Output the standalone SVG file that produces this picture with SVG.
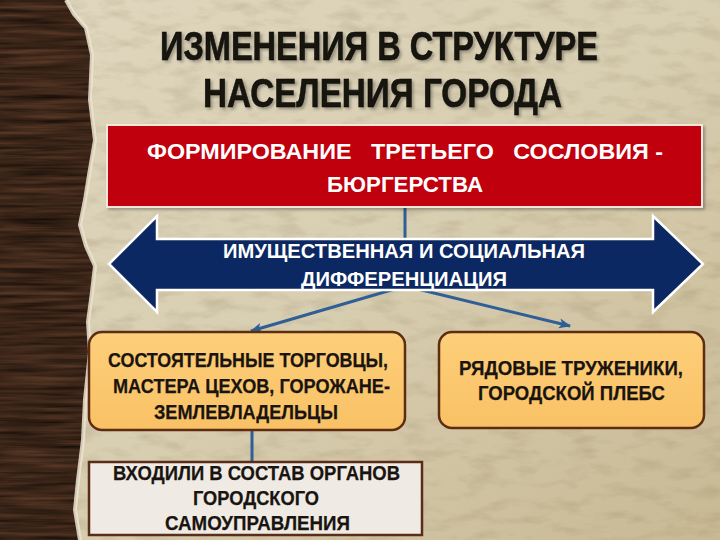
<svg xmlns="http://www.w3.org/2000/svg" width="720" height="540" viewBox="0 0 720 540">
  <defs>
    <style>
      .t { font-family: "Liberation Sans", Arial, sans-serif; font-weight: bold; }
      .title { font-size: 41px; fill: #141210; stroke: #141210; stroke-width: 0.6; }
      .white { fill: #ffffff; }
      .dark { fill: #1a1410; font-size: 20px; stroke: #1a1410; stroke-width: 0.25; }
      .conn { stroke: #2f5f96; stroke-width: 3; fill: none; }
    </style>
    <linearGradient id="paperGrad" x1="0" y1="0" x2="1" y2="1">
      <stop offset="0" stop-color="#e0d7bf"/>
      <stop offset="0.5" stop-color="#d8ceb1"/>
      <stop offset="1" stop-color="#c8b994"/>
    </linearGradient>
    <linearGradient id="orangeGrad" x1="0" y1="0" x2="0" y2="1">
      <stop offset="0" stop-color="#fdcf7a"/>
      <stop offset="1" stop-color="#f9c165"/>
    </linearGradient>
    <filter id="paperTex" x="0" y="0" width="100%" height="100%" color-interpolation-filters="sRGB">
      <feTurbulence type="fractalNoise" baseFrequency="0.03 0.08" numOctaves="4" seed="7"/>
      <feColorMatrix type="matrix" values="0 0 0 0 0.48  0 0 0 0 0.41  0 0 0 0 0.28  1.6 0 0 0 -0.75"/>
    </filter>
    <filter id="woodTex" x="0" y="0" width="100%" height="100%" color-interpolation-filters="sRGB">
      <feTurbulence type="fractalNoise" baseFrequency="0.012 0.22" numOctaves="3" seed="2"/>
      <feColorMatrix type="matrix" values="0.34 0 0 0 0.06  0.22 0 0 0 0.035  0.15 0 0 0 0.02  0 0 0 0 1"/>
    </filter>
    <filter id="shadow" x="-5%" y="-20%" width="110%" height="140%">
      <feDropShadow dx="2" dy="2" stdDeviation="1.5" flood-color="#000" flood-opacity="0.3"/>
    </filter>
    <clipPath id="paperClip">
      <path d="M66,0 L74,14 L86,28 L92,55 L90,100 L95,140 L89,175 L85,200 L80,225 L86,246 L95,266 L92,292 L88,322 L90,352 L85,400 L83,440 L78,480 L75,510 L80,540 L720,540 L720,0 Z"/>
    </clipPath>
    <marker id="arr" viewBox="0 0 12 10" refX="11" refY="5" markerWidth="4" markerHeight="4" orient="auto" markerUnits="strokeWidth">
      <path d="M0,0 L12,5 L0,10 L3,5 Z" fill="#2f5f96"/>
    </marker>
  </defs>

  <g id="background">
    <rect x="0" y="0" width="120" height="540" fill="#3a2418"/>
    <rect x="0" y="0" width="120" height="540" filter="url(#woodTex)"/>
    <g clip-path="url(#paperClip)">
      <rect x="0" y="0" width="720" height="540" fill="url(#paperGrad)"/>
      <rect x="0" y="0" width="720" height="540" filter="url(#paperTex)" opacity="0.28"/>
    </g>
    <path d="M66,0 L74,14 L86,28 L92,55 L90,100 L95,140 L89,175 L85,200 L80,225 L86,246 L95,266 L92,292 L88,322 L90,352 L85,400 L83,440 L78,480 L75,510 L80,540" fill="none" stroke="#ede4cf" stroke-width="4" opacity="0.85"/>
  </g>

  <g id="title" filter="url(#shadow)">
    <text class="t title" x="160" y="60" textLength="438" lengthAdjust="spacingAndGlyphs">ИЗМЕНЕНИЯ В СТРУКТУРЕ</text>
    <text class="t title" x="203" y="107" textLength="359" lengthAdjust="spacingAndGlyphs">НАСЕЛЕНИЯ ГОРОДА</text>
  </g>

  <g id="connectors">
    <line class="conn" x1="405" y1="207" x2="405" y2="240"/>
    <line class="conn" x1="405" y1="286" x2="251" y2="331" marker-end="url(#arr)"/>
    <line class="conn" x1="405" y1="286" x2="570" y2="326" marker-end="url(#arr)"/>
    <line class="conn" x1="252" y1="430" x2="252" y2="462"/>
  </g>

  <g id="burghers">
    <rect x="107" y="125" width="595" height="82" fill="#c00008" stroke="#f3e6dc" stroke-width="2" filter="url(#shadow)"/>
    <text class="t white" xml:space="preserve" style="white-space:pre" x="147" y="159" font-size="22" textLength="516" lengthAdjust="spacingAndGlyphs">ФОРМИРОВАНИЕ   ТРЕТЬЕГО   СОСЛОВИЯ -</text>
    <text class="t white" x="327" y="192" font-size="22" textLength="156" lengthAdjust="spacingAndGlyphs">БЮРГЕРСТВА</text>
  </g>

  <g id="differentiation">
    <path d="M109,264 L157,216 L157,239 L653,239 L653,216 L703,264 L653,312 L653,290 L157,290 L157,312 Z" fill="#0c2862" stroke="#ffffff" stroke-width="2.5" stroke-linejoin="miter"/>
    <text class="t white" x="223" y="258" font-size="20" textLength="362" lengthAdjust="spacingAndGlyphs">ИМУЩЕСТВЕННАЯ И СОЦИАЛЬНАЯ</text>
    <text class="t white" x="301" y="286" font-size="20" textLength="206" lengthAdjust="spacingAndGlyphs">ДИФФЕРЕНЦИАЦИЯ</text>
  </g>

  <g id="wealthy">
    <rect x="89" y="332" width="316" height="98" rx="13" fill="url(#orangeGrad)" stroke="#5e2c10" stroke-width="2.5"/>
    <text class="t dark" x="108" y="367" textLength="280" lengthAdjust="spacingAndGlyphs">СОСТОЯТЕЛЬНЫЕ ТОРГОВЦЫ,</text>
    <text class="t dark" x="113" y="393" textLength="277" lengthAdjust="spacingAndGlyphs">МАСТЕРА ЦЕХОВ, ГОРОЖАНЕ-</text>
    <text class="t dark" x="154" y="419" textLength="184" lengthAdjust="spacingAndGlyphs">ЗЕМЛЕВЛАДЕЛЬЦЫ</text>
  </g>

  <g id="commoners">
    <rect x="439" y="332" width="265" height="96" rx="13" fill="url(#orangeGrad)" stroke="#5e2c10" stroke-width="2.5"/>
    <text class="t dark" x="459" y="375" textLength="224" lengthAdjust="spacingAndGlyphs">РЯДОВЫЕ ТРУЖЕНИКИ,</text>
    <text class="t dark" x="478" y="400" textLength="187" lengthAdjust="spacingAndGlyphs">ГОРОДСКОЙ ПЛЕБС</text>
  </g>

  <g id="self-government">
    <rect x="89" y="462" width="333" height="73" fill="#efebe4" stroke="#5a2d1a" stroke-width="2.5"/>
    <text class="t dark" x="113" y="480" textLength="287" lengthAdjust="spacingAndGlyphs">ВХОДИЛИ В СОСТАВ ОРГАНОВ</text>
    <text class="t dark" x="193" y="505" textLength="126" lengthAdjust="spacingAndGlyphs">ГОРОДСКОГО</text>
    <text class="t dark" x="165" y="530" textLength="185" lengthAdjust="spacingAndGlyphs">САМОУПРАВЛЕНИЯ</text>
  </g>
</svg>
